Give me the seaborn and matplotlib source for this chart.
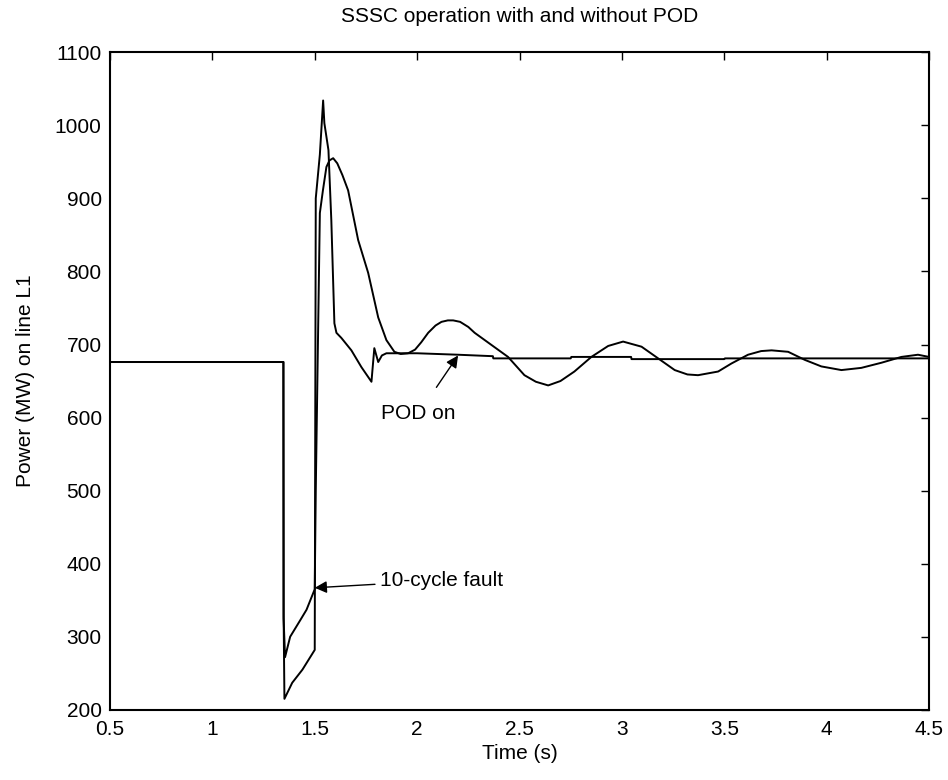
import numpy as np
import pandas as pd
import matplotlib
matplotlib.use("Agg")
import matplotlib.pyplot as plt
import seaborn as sns

# ---- data ----
t_pod = [0.5, 1.347, 1.348, 1.352, 1.39, 1.44, 1.50, 1.505, 1.525, 1.541, 1.547, 1.567,
         1.581, 1.596, 1.606, 1.630, 1.679, 1.728, 1.777, 1.791, 1.810, 1.828, 1.85,
         2.0, 2.2, 2.37, 2.372, 2.75, 2.753, 3.045, 3.047, 3.5, 3.503, 4.5]
p_pod = [676, 676, 330, 215, 237, 255, 282, 900, 960, 1034, 1003, 966,
         870, 729, 716, 709, 692, 669, 649, 695, 676, 685, 688,
         688, 686, 684, 681, 681, 683, 683, 680, 680, 681, 681]

t_nopod = [0.5, 1.347, 1.348, 1.355, 1.38, 1.43, 1.46, 1.50, 1.505, 1.525, 1.54, 1.557,
           1.572, 1.590, 1.610, 1.635, 1.663, 1.712, 1.761, 1.810, 1.850, 1.889, 1.920,
           1.956, 1.990, 2.020, 2.054, 2.090, 2.119, 2.150, 2.176, 2.210, 2.250,
           2.281, 2.360, 2.444, 2.524, 2.580, 2.640, 2.700, 2.768, 2.851, 2.933, 3.006,
           3.096, 3.177, 3.258, 3.320, 3.372, 3.470, 3.535, 3.616, 3.680, 3.731, 3.812,
           3.893, 3.974, 4.072, 4.169, 4.267, 4.365, 4.446, 4.5]
p_nopod = [676, 676, 325, 272, 300, 323, 337, 365, 500, 880, 911, 943,
           952, 955, 948, 932, 911, 843, 798, 737, 706, 690, 687,
           688, 693, 703, 716, 726, 731, 733, 733, 731, 724,
           716, 700, 683, 658, 649, 644, 650, 663, 683, 698, 704,
           697, 681, 665, 659, 658, 663, 674, 686, 691, 692, 690,
           679, 670, 665, 668, 675, 683, 686, 683]

x_ticks = [0.5, 1, 1.5, 2, 2.5, 3, 3.5, 4, 4.5]
x_ticklabels = ["0.5", "1", "1.5", "2", "2.5", "3", "3.5", "4", "4.5"]
y_ticks = [200, 300, 400, 500, 600, 700, 800, 900, 1000, 1100]

title = "SSSC operation with and without POD"
xlabel = "Time (s)"
ylabel = "Power (MW) on line L1"

# ---- plotting ----
sns.set_theme(style="white")
plt.rcParams["font.family"] = ["Liberation Sans", "DejaVu Sans"]
plt.rcParams["text.color"] = "black"
plt.rcParams["axes.labelcolor"] = "black"

fig = plt.figure(figsize=(9.48, 7.80), dpi=100)
ax = fig.add_axes([0.116, 0.09, 0.864, 0.843])

df_pod = pd.DataFrame({"t": t_pod, "p": p_pod})
df_nopod = pd.DataFrame({"t": t_nopod, "p": p_nopod})

sns.lineplot(data=df_nopod, x="t", y="p", ax=ax, color="black", linewidth=1.4,
             estimator=None, sort=False)
sns.lineplot(data=df_pod, x="t", y="p", ax=ax, color="black", linewidth=1.4,
             estimator=None, sort=False)

ax.set_xlim(0.5, 4.5)
ax.set_ylim(200, 1100)
ax.set_xticks(x_ticks)
ax.set_xticklabels(x_ticklabels)
ax.set_yticks(y_ticks)
ax.tick_params(axis="both", which="both", direction="in", length=6, width=1,
               top=True, right=True, labelsize=15, colors="black")
ax.tick_params(axis="x", pad=7)
ax.tick_params(axis="y", pad=6)
for s in ax.spines.values():
    s.set_visible(True)
    s.set_color("black")
    s.set_linewidth(1.5)

ax.set_title(title, fontsize=15, pad=22, color="black")
ax.set_xlabel(xlabel, fontsize=15, labelpad=4)
ax.set_ylabel(ylabel, fontsize=15, labelpad=14)

ax.annotate("POD on", xy=(2.20, 685), xytext=(2.006, 605), fontsize=15,
            ha="center", va="center",
            arrowprops=dict(arrowstyle="-|>", color="black", lw=1.0,
                            mutation_scale=18, shrinkA=12, shrinkB=0))
ax.annotate("10-cycle fault", xy=(1.5, 367), xytext=(1.817, 377), fontsize=15,
            ha="left", va="center",
            arrowprops=dict(arrowstyle="-|>", color="black", lw=1.0,
                            mutation_scale=18, shrinkA=1, shrinkB=0))

fig.savefig("out.png", dpi=100, facecolor="white")
